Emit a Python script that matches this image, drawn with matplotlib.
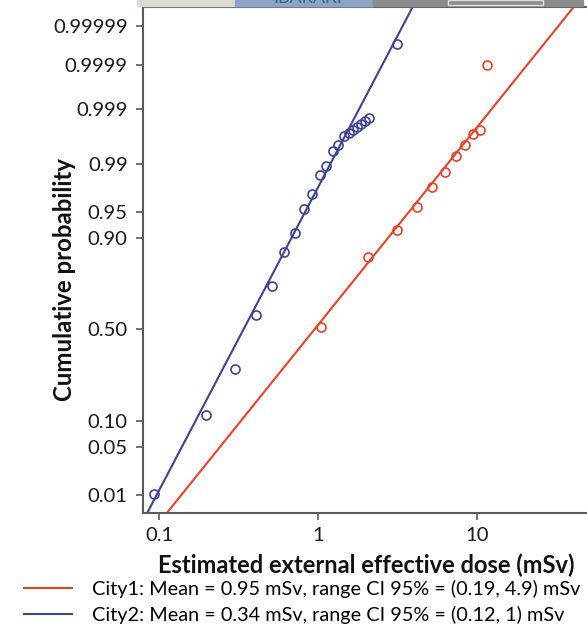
import numpy as np
import matplotlib
matplotlib.use("Agg")
import matplotlib.pyplot as plt
from matplotlib.patches import Rectangle
from statistics import NormalDist

# ---------------- data ----------------
city1_dose = [1.04, 2.07, 3.13, 4.18, 5.24, 6.29, 7.35, 8.41, 9.4, 10.45, 11.5]
city1_prob = [0.512, 0.844, 0.918, 0.9576, 0.977, 0.9866, 0.9927, 0.9952, 0.997, 0.9975, 0.9999]

city2_dose = [0.093, 0.198, 0.302, 0.405, 0.514, 0.614, 0.719, 0.82, 0.92, 1.03,
              1.128, 1.24, 1.34, 1.457, 1.566, 1.66, 1.758, 1.862, 1.976, 2.094, 3.13]
city2_prob = [0.0104, 0.115, 0.289, 0.58, 0.73, 0.861, 0.912, 0.9546, 0.9717, 0.9848,
              0.9893, 0.994, 0.9952, 0.9967, 0.99709, 0.99745, 0.99777, 0.99804, 0.99829,
              0.99851, 0.99997]

# lognormal fits (geometric mean and 95% range from legend)
city1_mean, city1_ci = 0.95, (0.19, 4.9)
city2_mean, city2_ci = 0.34, (0.12, 1.0)

legend_labels = [
    "City1: Mean = 0.95 mSv, range CI 95% = (0.19, 4.9) mSv",
    "City2: Mean = 0.34 mSv, range CI 95% = (0.12, 1) mSv",
]
y_ticks = [0.01, 0.05, 0.10, 0.50, 0.90, 0.95, 0.99, 0.999, 0.9999, 0.99999]
y_ticklabels = ["0.01", "0.05", "0.10", "0.50", "0.90", "0.95", "0.99", "0.999", "0.9999", "0.99999"]
x_ticks = [0.1, 1, 10]
x_ticklabels = ["0.1", "1", "10"]

# ---------------- style ----------------
RED = "#e6412a"
BLUE = "#3d4392"
SPINE = "#5a5a5a"
plt.rcParams['font.family'] = ['Lato', 'DejaVu Sans']

nd = NormalDist()
_ppf = np.vectorize(lambda p: nd.inv_cdf(min(max(p, 1e-15), 1 - 1e-15)), otypes=[float])
_cdf = np.vectorize(nd.cdf, otypes=[float])


def fwd(p):
    return _ppf(np.asarray(p, dtype=float))


def inv(z):
    return _cdf(np.asarray(z, dtype=float))


W, H = 587, 626
fig = plt.figure(figsize=(W / 100, H / 100), dpi=100)

# axes placement (pixels)
ax_l, ax_r, ax_t, ax_b = 143, 589, 7, 513
ax = fig.add_axes([ax_l / W, 1 - ax_b / H, (ax_r - ax_l) / W, (ax_b - ax_t) / H])
ax.set_xscale('log')
ax.set_yscale('function', functions=(fwd, inv))


def fit_line(mean, ci):
    mu = np.log10(mean)
    sig = (np.log10(ci[1]) - np.log10(ci[0])) / (2 * 1.96)
    z = np.linspace(-3.2, 5.2, 300)
    return 10 ** (mu + sig * z), inv(z)


x1, p1 = fit_line(city1_mean, city1_ci)
x2, p2 = fit_line(city2_mean, city2_ci)
l1, = ax.plot(x1, p1, color=RED, lw=1.5, zorder=2)
l2, = ax.plot(x2, p2, color=BLUE, lw=1.5, zorder=2)
ax.plot(city1_dose, city1_prob, 'o', mfc='none', mec=RED, mew=1.2, ms=6.5, zorder=3)
ax.plot(city2_dose, city2_prob, 'o', mfc='none', mec=BLUE, mew=1.2, ms=6.5, zorder=3)

# limits from pixel geometry
px_per_dec = 159.0
x0_px = 159.0
ax.set_xlim(10 ** (-1 + (ax_l - x0_px) / px_per_dec), 10 ** (-1 + (ax_r - x0_px) / px_per_dec))
z_mid_px, px_per_z = 329.4, 71.2
ax.set_ylim(inv((z_mid_px - ax_b) / px_per_z), inv((z_mid_px - ax_t) / px_per_z))

ax.set_xticks(x_ticks)
ax.set_xticklabels(x_ticklabels)
ax.xaxis.set_minor_locator(matplotlib.ticker.NullLocator())
ax.set_yticks(y_ticks)
ax.set_yticklabels(y_ticklabels)
ax.yaxis.set_minor_locator(matplotlib.ticker.NullLocator())
ax.tick_params(axis='both', labelsize=14.6, colors='#1a1a1a', length=5, width=1.2)
ax.tick_params(axis='y', pad=6)
ax.tick_params(axis='x', pad=5)
ax.tick_params(axis='both', color=SPINE)

for s in ['left', 'bottom', 'top']:
    ax.spines[s].set_color(SPINE)
    ax.spines[s].set_linewidth(1.5)
ax.spines['right'].set_visible(False)

ax.set_xlabel("Estimated external effective dose (mSv)", fontsize=17, fontweight='bold',
              color='#111111', labelpad=7)
ax.set_ylabel("Cumulative probability", fontsize=17.3, fontweight='bold', color='#111111')
ax.yaxis.set_label_coords(-(143 - 76) / (ax_r - ax_l), (ax_b - 280) / (ax_b - ax_t))

fig.legend([l1, l2], legend_labels, loc='upper left', bbox_to_anchor=(22 / W, 1 - 578 / H),
           frameon=False, fontsize=14.3, handlelength=2.4, handletextpad=1.0,
           labelspacing=0.38, borderaxespad=0, borderpad=0.1)

# top banner (cropped slide header)
fig.patches.append(Rectangle((137 / W, 1 - 6 / H), (373 - 137) / W, 6 / H,
                             transform=fig.transFigure, color="#ddd9d5", zorder=0))
fig.patches.append(Rectangle((235 / W, 1 - 6 / H), (373 - 235) / W, 6 / H,
                             transform=fig.transFigure, color="#8ea4c6", zorder=0))
fig.patches.append(Rectangle((373 / W, 1 - 6 / H), (583 - 373) / W, 6 / H,
                             transform=fig.transFigure, color="#8c8c8c", zorder=0))
fig.patches.append(Rectangle((448 / W, 1 - 5 / H), (543 - 448) / W, 5 / H,
                             transform=fig.transFigure, fill=False, ec="#dddddd", lw=1, zorder=1))
fig.text(273 / W, 1 - 6 / H, "IBARAKI", fontsize=13, color="#2a6f8a", va='bottom', ha='left')

fig.savefig("out.png", dpi=100, facecolor='white')
